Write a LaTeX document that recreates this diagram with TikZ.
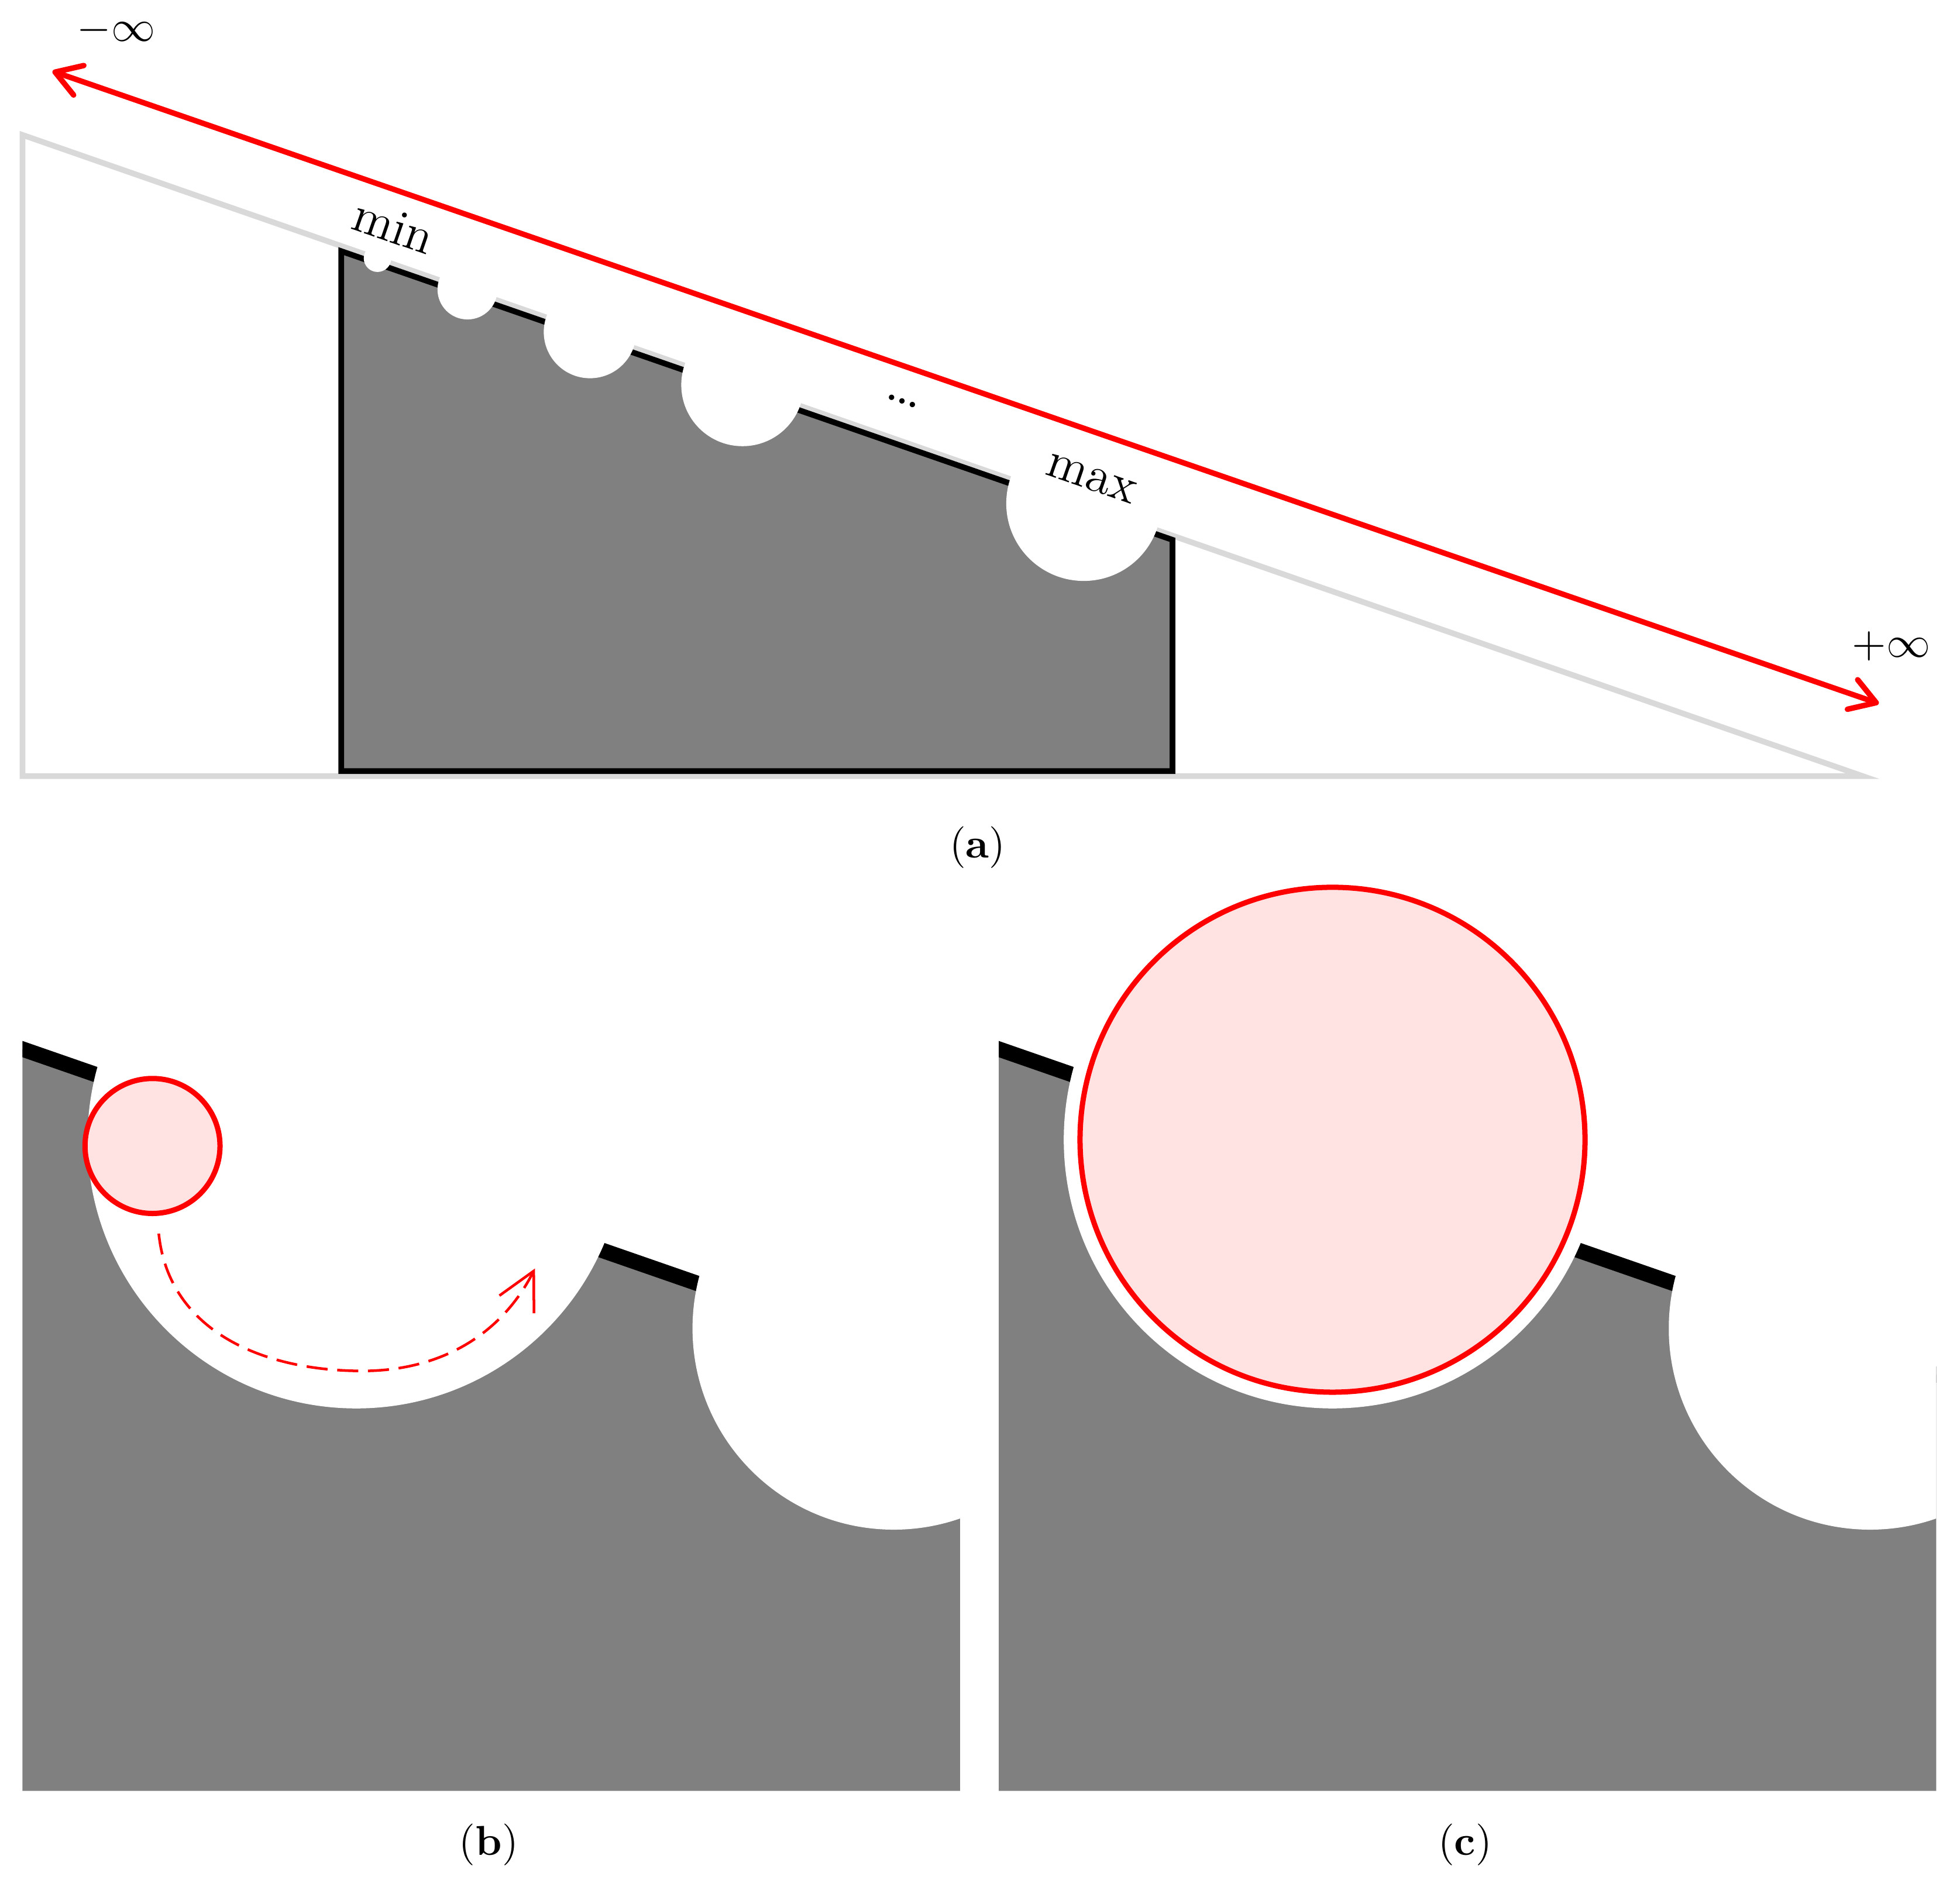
\documentclass[tikz,border=0pt]{standalone}
\usepackage{amsmath}
\usetikzlibrary{arrows.meta}

\begin{document}
\begin{tikzpicture}[
  frame/.style={draw=black!15,line width=1.3pt},
  block/.style={fill=black!50},
  ball/.style={circle,draw=red,fill=red!11,line width=1.2pt,inner sep=0pt},
  tilted/.style={rotate=-19.1,font=\fontsize{11.5}{13}\selectfont,inner sep=1pt},
  sub/.style={font=\fontsize{9.5}{11}\selectfont}
]
\useasboundingbox (0,0) rectangle (15.68,15.04);

% (a)
\draw[frame] (0.18,13.96) -- (0.18,8.83) -- (14.9,8.83) -- cycle;
\filldraw[block,draw=black,line width=1.3pt] (2.73,13.03) -- (2.73,8.87) -- (9.38,8.87) -- (9.38,10.72) -- cycle;
\foreach \x/\r in {3.02/0.11,3.74/0.24,4.72/0.37,5.94/0.49,8.67/0.62}
  \fill[white] (\x,{13.96-0.3473*(\x-0.18)}) circle (\r);
\node[tilted] (min) at (3.15,13.23) {min};
\node[tilted,font=\fontsize{15}{17}\selectfont] (dots) at (7.22,11.83) {\ldots};
\node[tilted] (max) at (8.73,11.21) {max};

\coordinate (neg) at (0.42,14.47);
\coordinate (pos) at (15.03,9.41);
\draw[red,line width=1.25pt,{Straight Barb[round,length=2mm,width=2.5mm]}-{Straight Barb[round,length=2mm,width=2.5mm]}] (neg) -- (pos);
\node[inner sep=1pt,font=\fontsize{10.3}{12}\selectfont] (neginf) at (0.93,14.80) {$-\infty$};
\node[inner sep=1pt,font=\fontsize{10.3}{12}\selectfont] (posinf) at (15.13,9.87) {$+\infty$};
\node[sub] (capa) at (7.82,8.26) {(\textbf{a})};

% (b) and (c)
\foreach \dx/\nm in {0/b,7.81/c} {
  \begin{scope}[xshift=\dx cm]
    \begin{scope}
      \clip (0.18,0.71) rectangle (7.68,7.5);
      \fill[block] (0.18,0.71) -- (0.18,6.645) -- (7.68,4.04) -- (7.68,0.71) -- cycle;
      \draw[line width=3.5pt] (0.10,6.673) -- (7.76,4.013);
      \fill[white] (2.85,5.92) circle (2.15);
      \fill[white] (7.15,4.41) circle (1.61);
    \end{scope}
    \node[sub] (cap\nm) at (3.91,0.28) {(\textbf{\nm})};
  \end{scope}
}

\node[ball,minimum size=1.08cm] (small) at (1.22,5.87) {};
\coordinate (from) at ([shift={(0.05,-0.14)}]small.south);
\coordinate (to) at (4.28,4.89);
\draw[red,line width=0.6pt,dash pattern=on 4.8pt off 2.2pt,-{Straight Barb[length=3mm,width=3.1mm]}]
  (from) .. controls (1.35,4.39) and (2.10,4.07) .. (2.90,4.07)
  .. controls (3.50,4.07) and (4.00,4.34) .. (to);

\node[ball,minimum size=4.04cm] (big) at (10.66,5.92) {};
\end{tikzpicture}
\end{document}
